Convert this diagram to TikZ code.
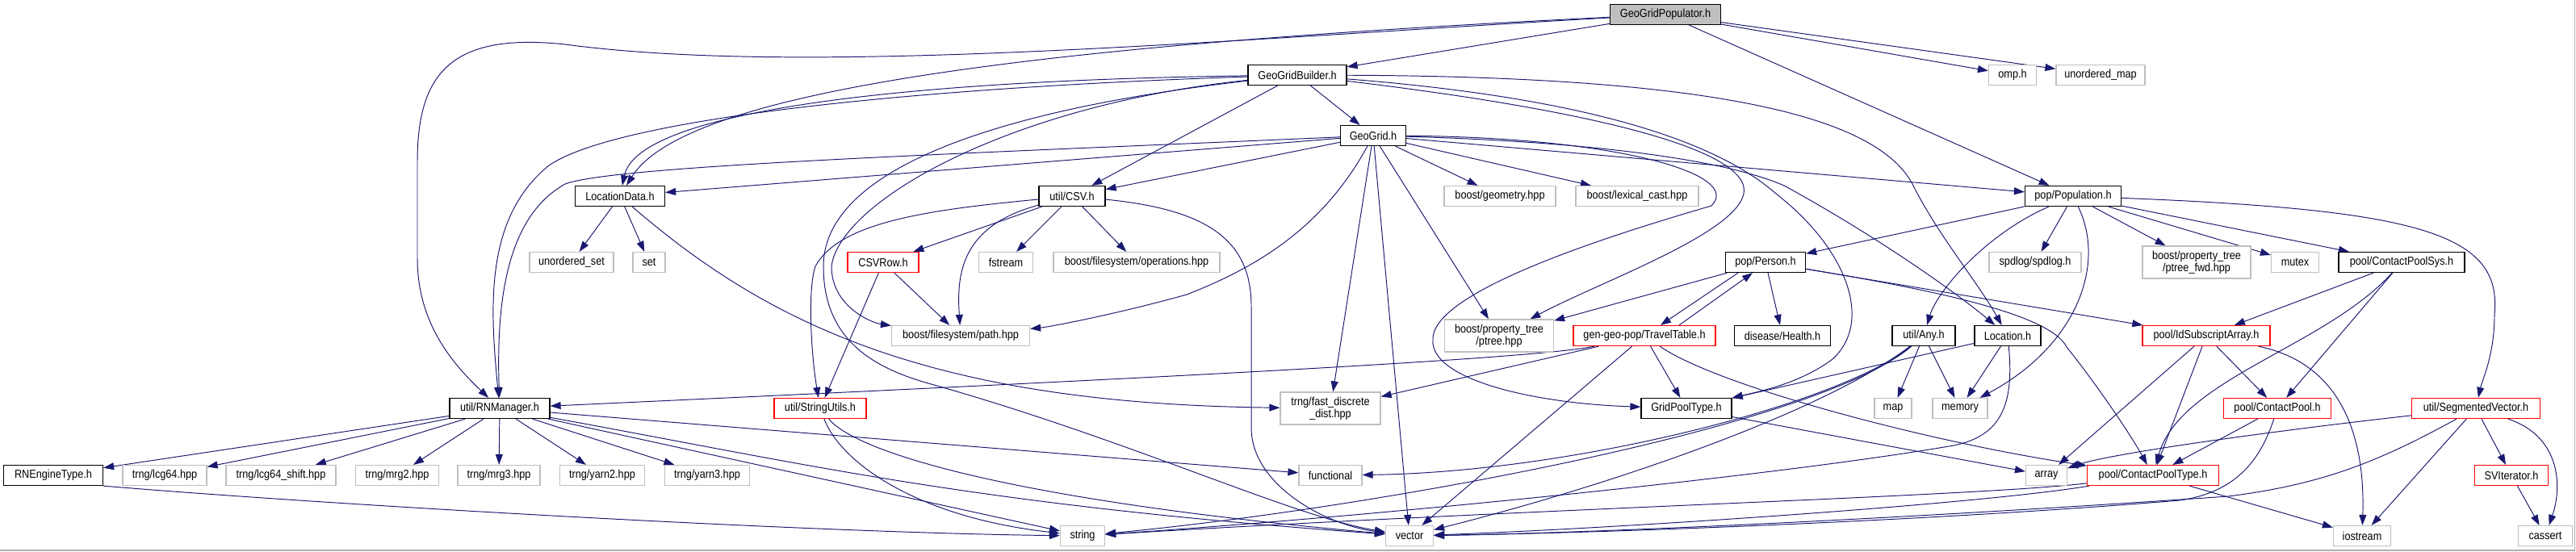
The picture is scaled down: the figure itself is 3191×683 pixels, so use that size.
\documentclass[tikz,border=0pt]{standalone}
\usepackage{fontspec}
\setmainfont{Liberation Sans}[FakeStretch=0.88]
\usetikzlibrary{arrows.meta, backgrounds}
\definecolor{edgeblue}{RGB}{25,25,112}
\definecolor{sysgray}{RGB}{191,191,191}
\definecolor{rootgray}{RGB}{191,191,191}
\definecolor{truncred}{RGB}{255,0,0}
\definecolor{framegray}{RGB}{175,175,175}

\begin{document}
\begin{tikzpicture}[x=0.2mm, y=0.2mm,
  file/.style={rectangle, fill=white, inner xsep=1mm, inner ysep=0pt,
    minimum height=5mm, font=\fontsize{8.2}{8.4}\selectfont, align=center},
  docfile/.style={file, draw=black, line width=0.7pt},
  sysfile/.style={file, draw=sysgray, line width=0.7pt},
  redfile/.style={file, draw=truncred, line width=0.7pt},
  rootfile/.style={file, draw=black, fill=rootgray, line width=0.7pt},
  tallfile/.style={minimum height=8mm},
  dep/.style={draw=edgeblue, line width=0.55pt,
    -{Triangle[length=2.6mm, width=1.8mm]}}
]
  \useasboundingbox (0,0) rectangle (3191,-683);

  % -- top rows --
  \node[rootfile, minimum width=27.4mm] (gpop) at (2063,-18) {GeoGridPopulator.h};
  \node[docfile, minimum width=24.4mm] (ggb) at (1607,-93) {GeoGridBuilder.h};
  \node[sysfile, minimum width=11.8mm] (omp) at (2493,-93) {omp.h};
  \node[sysfile, minimum width=22mm] (umap) at (2602,-93) {unordered\_map};
  \node[docfile, minimum width=16.2mm] (gg) at (1701,-168) {GeoGrid.h};

  \node[docfile, minimum width=22.2mm] (locdata) at (768,-243) {LocationData.h};
  \node[docfile, minimum width=16.4mm] (csv) at (1328,-243) {util/CSV.h};
  \node[sysfile, minimum width=27.6mm] (geom) at (1858,-243) {boost/geometry.hpp};
  \node[sysfile, minimum width=30.4mm] (lexcast) at (2028,-243) {boost/lexical\_cast.hpp};
  \node[docfile, minimum width=23.8mm] (pop) at (2568,-243) {pop/Population.h};

  % -- middle rows --
  \node[sysfile, minimum width=20.8mm] (uset) at (708,-325) {unordered\_set};
  \node[sysfile, minimum width=8mm] (set) at (804,-325) {set};
  \node[redfile, minimum width=17.6mm] (csvrow) at (1094,-325) {CSVRow.h};
  \node[sysfile, minimum width=13.4mm] (fstream) at (1246,-325) {fstream};
  \node[sysfile, minimum width=41.2mm] (fsops) at (1408,-325) {boost/filesystem/operations.hpp};
  \node[docfile, minimum width=19.8mm] (person) at (2187,-325) {pop/Person.h};
  \node[sysfile, minimum width=22.8mm] (spdlog) at (2521,-325) {spdlog/spdlog.h};
  \node[sysfile, tallfile, minimum width=26.8mm] (ptreefwd) at (2721,-325) {boost/property\_tree\\/ptree\_fwd.hpp};
  \node[sysfile, minimum width=11.8mm] (mutex) at (2843,-325) {mutex};
  \node[docfile, minimum width=31.2mm] (cpsys) at (2975,-325) {pool/ContactPoolSys.h};

  \node[sysfile, minimum width=34.2mm] (fspath) at (1190,-416) {boost/filesystem/path.hpp};
  \node[sysfile, tallfile, minimum width=27mm] (ptree) at (1857,-416) {boost/property\_tree\\/ptree.hpp};
  \node[redfile, minimum width=35.2mm] (travel) at (2037,-416) {gen-geo-pop/TravelTable.h};
  \node[docfile, minimum width=23.8mm] (health) at (2208,-416) {disease/Health.h};
  \node[docfile, minimum width=15.6mm] (any) at (2383,-416) {util/Any.h};
  \node[docfile, minimum width=16.4mm] (loc) at (2487,-416) {Location.h};
  \node[redfile, minimum width=31.6mm] (idsub) at (2733,-416) {pool/IdSubscriptArray.h};

  \node[docfile, minimum width=24.8mm] (rnm) at (619,-506) {util/RNManager.h};
  \node[redfile, minimum width=22.8mm] (strutil) at (1016,-506) {util/StringUtils.h};
  \node[sysfile, tallfile, minimum width=24.8mm] (fastdd) at (1648,-506) {trng/fast\_discrete\\\_dist.hpp};
  \node[docfile, minimum width=22.4mm] (gpt) at (2089,-506) {GridPoolType.h};
  \node[sysfile, minimum width=9.2mm] (map) at (2345,-506) {map};
  \node[sysfile, minimum width=13.6mm] (memory) at (2428,-506) {memory};
  \node[redfile, minimum width=26.6mm] (cpool) at (2821,-506) {pool/ContactPool.h};
  \node[redfile, minimum width=31.8mm] (segvec) at (3067,-506) {util/SegmentedVector.h};

  % -- bottom rows --
  \node[docfile, minimum width=24.6mm] (rneng) at (66,-589) {RNEngineType.h};
  \node[sysfile, minimum width=20.8mm] (lcg64) at (204,-589) {trng/lcg64.hpp};
  \node[sysfile, minimum width=27.2mm] (lcgsh) at (348,-589) {trng/lcg64\_shift.hpp};
  \node[sysfile, minimum width=20.6mm] (mrg2) at (492,-589) {trng/mrg2.hpp};
  \node[sysfile, minimum width=20.4mm] (mrg3) at (618,-589) {trng/mrg3.hpp};
  \node[sysfile, minimum width=21mm] (yarn2) at (746,-589) {trng/yarn2.hpp};
  \node[sysfile, minimum width=21mm] (yarn3) at (876,-589) {trng/yarn3.hpp};
  \node[sysfile, minimum width=15.6mm] (functional) at (1648,-589) {functional};
  \node[sysfile, minimum width=10.2mm] (array) at (2535,-589) {array};
  \node[redfile, minimum width=32.6mm] (cptype) at (2667,-589) {pool/ContactPoolType.h};
  \node[redfile, minimum width=18.2mm] (svit) at (3111,-589) {SVIterator.h};

  \node[sysfile, minimum width=11mm] (string) at (1341,-664) {string};
  \node[sysfile, minimum width=11.8mm] (vector) at (1746,-664) {vector};
  \node[sysfile, minimum width=14.2mm] (iostream) at (2926,-664) {iostream};
  \node[sysfile, minimum width=13.4mm] (cassert) at (3153,-664) {cassert};

  \begin{scope}[on background layer]
    % straight includes
    \foreach \a/\b in {gpop/ggb, gpop/omp, gpop/umap, gpop/pop,
        ggb/gg, ggb/csv,
        gg/csv, gg/locdata, gg/geom, gg/lexcast, gg/ptree, gg/fastdd, gg/vector, gg/pop,
        locdata/uset, locdata/set,
        csv/csvrow, csv/fstream, csv/fsops,
        csvrow/strutil, csvrow/fspath,
        pop/person, pop/spdlog, pop/ptreefwd, pop/mutex, pop/cpsys,
        person/ptree, person/health, person/idsub,
        travel/fastdd, travel/gpt, travel/vector,
        any/map, any/memory, loc/memory, loc/gpt,
        cpsys/idsub, cpsys/cpool,
        idsub/array, idsub/cptype, idsub/cpool,
        gpt/array, cpool/cptype, cptype/iostream,
        segvec/iostream, segvec/svit, svit/cassert,
        rnm/rneng, rnm/lcg64, rnm/lcgsh, rnm/mrg2, rnm/mrg3, rnm/yarn2, rnm/yarn3,
        rnm/functional, rnm/string}
      \draw[dep] (\a) -- (\b);

    % long routes on the left
    \draw[dep] (gpop) .. controls (1500,-50) and (1000,-95) .. (700,-55)
      .. controls (560,-40) and (517,-90) .. (517,-200) -- (517,-320)
      .. controls (517,-400) and (560,-450) .. (rnm);
    \draw[dep] (gpop) .. controls (1300,-55) and (850,-110) .. (locdata);
    \draw[dep] (ggb) .. controls (1100,-100) and (790,-140) .. (locdata);
    \draw[dep] (ggb) .. controls (1100,-110) and (760,-150) .. (680,-205)
      .. controls (600,-270) and (607,-380) .. (rnm);
    \draw[dep] (gg) .. controls (1200,-190) and (760,-205) .. (700,-228)
      .. controls (625,-270) and (615,-380) .. (rnm);
    \draw[dep] (ggb) .. controls (1250,-130) and (1040,-250) .. (1030,-330)
      .. controls (1030,-380) and (1080,-400) .. (fspath);
    \draw[dep] (ggb) .. controls (1200,-140) and (1020,-220) .. (1020,-330)
      .. controls (1020,-420) and (1080,-455) .. (1150,-475)
      .. controls (1400,-545) and (1600,-640) .. (vector);
    \draw[dep] (csv) .. controls (1150,-260) and (1040,-275) .. (1010,-330)
      .. controls (1000,-360) and (1005,-440) .. (strutil);
    \draw[dep] (csv) .. controls (1190,-280) and (1185,-340) .. (fspath);
    \draw[dep] (csv) .. controls (1500,-260) and (1550,-300) .. (1550,-380) -- (1550,-530)
      .. controls (1550,-600) and (1640,-650) .. (vector);
    \draw[dep] (gg) .. controls (1640,-280) and (1560,-330) .. (1470,-365)
      .. controls (1380,-390) and (1300,-405) .. (fspath);
    \draw[dep] (locdata) .. controls (950,-400) and (1150,-500) .. (fastdd);

    % routes from the builder and the grid to the right
    \draw[dep] (gg) .. controls (2000,-170) and (2160,-215) .. (2120,-255)
      .. controls (2000,-290) and (1775,-360) .. (1775,-420)
      .. controls (1770,-470) and (1900,-500) .. (gpt);
    \draw[dep] (ggb) .. controls (2000,-140) and (2170,-190) .. (2160,-240)
      .. controls (2150,-290) and (1980,-350) .. (ptree);
    \draw[dep] (ggb) .. controls (1950,-120) and (2120,-170) .. (2200,-240)
      .. controls (2290,-310) and (2320,-400) .. (2270,-445)
      .. controls (2230,-475) and (2180,-485) .. (gpt);
    \draw[dep] (ggb) .. controls (2150,-95) and (2330,-150) .. (2370,-230)
      .. controls (2400,-290) and (2450,-350) .. (loc);
    \draw[dep] (gg) .. controls (1950,-175) and (2130,-195) .. (2210,-230)
      .. controls (2320,-290) and (2420,-360) .. (loc);

    % population and person
    \draw[dep] (pop) .. controls (2460,-290) and (2400,-360) .. (any);
    \draw[dep] (pop) .. controls (2610,-330) and (2570,-430) .. (memory);
    \draw[dep] (pop) .. controls (3000,-260) and (3100,-290) .. (3090,-390)
      .. controls (3090,-440) and (3075,-470) .. (segvec);
    \draw[dep] ([xshift=-6.8mm]person.south) -- ([xshift=4mm]travel.north);
    \draw[dep] ([xshift=8.6mm]travel.north) -- ([xshift=-3.2mm]person.south);
    \draw[dep] (person) .. controls (2400,-360) and (2540,-390) .. (2560,-430)
      .. controls (2600,-480) and (2640,-540) .. (cptype);
    \draw[dep] (travel) .. controls (1900,-445) and (1400,-470) .. (rnm);
    \draw[dep] (travel) .. controls (2130,-480) and (2400,-550) .. (cptype);

    % util/Any.h and Location.h
    \draw[dep] (any) .. controls (2280,-500) and (1950,-585) .. (functional);
    \draw[dep] (any) .. controls (2260,-510) and (2000,-600) .. (vector);
    \draw[dep] (any) .. controls (2250,-530) and (1700,-630) .. (string);
    \draw[dep] (loc) .. controls (2495,-500) and (2480,-540) .. (2420,-552)
      .. controls (2200,-590) and (1700,-640) .. (string);

    % pools
    \draw[dep] (idsub) .. controls (2900,-450) and (2930,-540) .. (iostream);
    \draw[dep] (cpsys) .. controls (2880,-430) and (2700,-470) .. (cptype);
    \draw[dep] (cpool) .. controls (2800,-570) and (2770,-610) .. (2700,-620)
      .. controls (2400,-645) and (2000,-660) .. (vector);
    \draw[dep] (cptype) .. controls (2450,-615) and (1900,-630) .. (string);
    \draw[dep] (cptype) .. controls (2450,-625) and (2000,-655) .. (vector);
    \draw[dep] (segvec) .. controls (2950,-570) and (2880,-600) .. (2760,-615)
      .. controls (2400,-640) and (2000,-660) .. (vector);
    \draw[dep] (segvec) .. controls (3170,-540) and (3175,-600) .. (cassert);
    \draw[dep] (segvec) .. controls (2850,-530) and (2620,-560) .. (array);

    % RNManager and string utilities
    \draw[dep] (rnm) .. controls (1000,-575) and (1200,-625) .. (vector);
    \draw[dep] (rneng.south east) .. controls (400,-625) and (1000,-660) .. (string);
    \draw[dep] (strutil) .. controls (1040,-570) and (1130,-640) .. (string);
    \draw[dep] (strutil) .. controls (1060,-560) and (1250,-620) .. (vector);
  \end{scope}

  \draw[framegray, line width=0.6pt] (0,-682) -- (3189,-682) -- (3189,0);
\end{tikzpicture}
\end{document}
